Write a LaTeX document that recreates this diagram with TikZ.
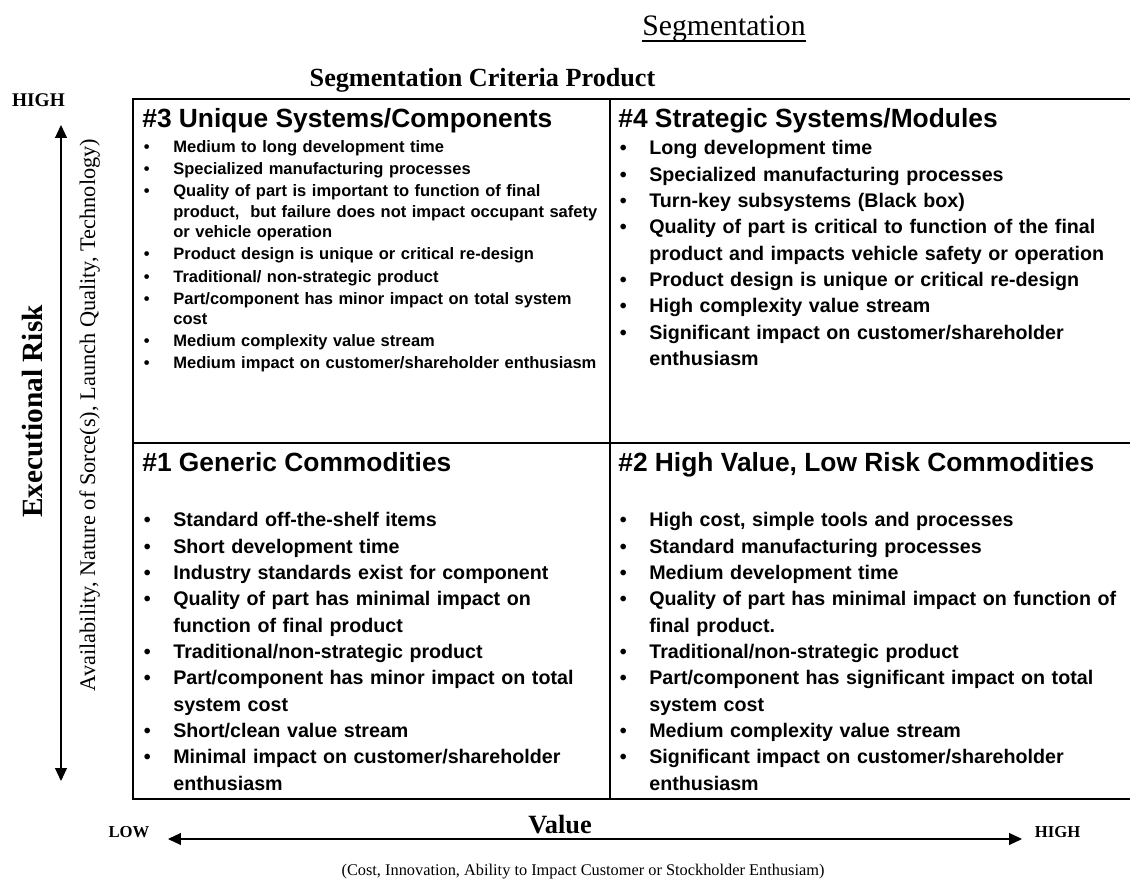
\documentclass[tikz,border=0pt]{standalone}
\usepackage{fontspec}
\setmainfont{Liberation Serif}
\newfontfamily\arialfont{Liberation Sans}
\usetikzlibrary{arrows.meta, positioning}

\newcommand{\bitem}[1]{\noindent\hangindent=0.62cm\hangafter=1%
  \makebox[0.62cm][l]{\hspace{0.03cm}\textbullet}#1\par}

\begin{document}
\begin{tikzpicture}[x=0.02cm, y=-0.02cm,
  heading/.style={anchor=base west, inner sep=0pt, font=\arialfont\bfseries\fontsize{15}{18}\selectfont},
  bigitems/.style={anchor=base west, inner sep=0pt, text width=10.2cm, align=left, font=\arialfont\bfseries\fontsize{11.2}{14.97}\selectfont},
  smallitems/.style={anchor=base west, inner sep=0pt, text width=9.3cm, align=left, font=\arialfont\bfseries\fontsize{9.4}{11.62}\selectfont},
  endlabel/.style={anchor=base, inner sep=0pt, font=\bfseries\fontsize{9.5}{11}\selectfont},
  axisarrow/.style={{Triangle[length=0.26cm, width=0.24cm]}-{Triangle[length=0.26cm, width=0.24cm]}, line width=0.6pt}]
  \useasboundingbox (0,0) rectangle (1130,881);

  % Titles
  \node[anchor=base, inner sep=0pt, font=\fontsize{16.9}{20}\selectfont] (segtitle) at (724,36) {Segmentation};
  \draw[line width=0.6pt] ([yshift=-0.1cm]segtitle.base west) -- ([yshift=-0.1cm]segtitle.base east);
  \node[anchor=base, inner sep=0pt, font=\bfseries\fontsize{14.9}{18}\selectfont] (criteria) at (482.5,86.7) {Segmentation Criteria Product};

  % Grid
  \draw[line width=0.8pt] (1130,99) -- (133,99) -- (133,799) -- (1130,799);
  \draw[line width=0.8pt] (133,443) -- (1130,443);
  \draw[line width=0.8pt] (610,99) -- (610,799);

  % #3 quadrant
  \node[heading] (q3head) at (142,127.5) {\#3 Unique Systems/Components};
  \node[smallitems] (q3list) at (142,152.5) {\setlength{\parskip}{1pt}%
    \bitem{Medium to long development time}%
    \bitem{Specialized manufacturing processes}%
    \bitem{Quality of part is important to function of final\newline product,\ \ but failure does not impact occupant safety\newline or vehicle operation}%
    \bitem{Product design is unique or critical re-design}%
    \bitem{Traditional/ non-strategic product}%
    \bitem{Part/component has minor impact on total system\newline cost}%
    \bitem{Medium complexity value stream}%
    \bitem{Medium impact on customer/shareholder enthusiasm}};

  % #4 quadrant
  \node[heading] (q4head) at (618,127.5) {\#4 Strategic Systems/Modules};
  \node[bigitems] (q4list) at (618,155) {%
    \bitem{Long development time}%
    \bitem{Specialized manufacturing processes}%
    \bitem{Turn-key subsystems (Black box)}%
    \bitem{Quality of part is critical to function of the final\newline product and impacts vehicle safety or operation}%
    \bitem{Product design is unique or critical re-design}%
    \bitem{High complexity value stream}%
    \bitem{Significant impact on customer/shareholder\newline enthusiasm}};

  % #1 quadrant
  \node[heading] (q1head) at (142,472) {\#1 Generic Commodities};
  \node[bigitems] (q1list) at (142,527) {%
    \bitem{Standard off-the-shelf items}%
    \bitem{Short development time}%
    \bitem{Industry standards exist for component}%
    \bitem{Quality of part has minimal impact on\newline function of final product}%
    \bitem{Traditional/non-strategic product}%
    \bitem{Part/component has minor impact on total\newline system cost}%
    \bitem{Short/clean value stream}%
    \bitem{Minimal impact on customer/shareholder\newline enthusiasm}};

  % #2 quadrant
  \node[heading] (q2head) at (618,472) {\#2 High Value, Low Risk Commodities};
  \node[bigitems] (q2list) at (618,527) {%
    \bitem{High cost, simple tools and processes}%
    \bitem{Standard manufacturing processes}%
    \bitem{Medium development time}%
    \bitem{Quality of part has minimal impact on function of\newline final product.}%
    \bitem{Traditional/non-strategic product}%
    \bitem{Part/component has significant impact on total\newline system cost}%
    \bitem{Medium complexity value stream}%
    \bitem{Significant impact on customer/shareholder\newline enthusiasm}};

  % Risk axis
  \node[anchor=base, inner sep=0pt, rotate=90, font=\bfseries\fontsize{16.7}{20}\selectfont] (risk) at (42,411.5) {Executional Risk};
  \node[anchor=base, inner sep=0pt, rotate=90, font=\fontsize{12.7}{15}\selectfont] (riskdesc) at (95,415) {Availability, Nature of Sorce(s), Launch Quality, Technology)};
  \node[anchor=base, inner sep=0pt, font=\bfseries\fontsize{11}{13}\selectfont] (riskhigh) at (38.5,106.5) {HIGH};
  \coordinate (risktop) at (61,125);
  \coordinate (riskbot) at (61,781);
  \draw[axisarrow] (riskbot) -- (risktop);

  % Value axis
  \node[endlabel] (valuelow) at (129,838) {LOW};
  \node[endlabel] (valuehigh) at (1057.5,838) {HIGH};
  \coordinate (valueleft) at (168,839);
  \coordinate (valueright) at (1022,839);
  \draw[axisarrow] (valueleft) -- (valueright);
  \node[anchor=base, inner sep=0pt, font=\bfseries\fontsize{15}{18}\selectfont] (value) at (560,833) {Value};
  \node[anchor=base, inner sep=0pt, font=\fontsize{9.3}{11}\selectfont] (valuedesc) at (583,875) {(Cost, Innovation, Ability to Impact Customer or Stockholder Enthusiam)};
\end{tikzpicture}
\end{document}
